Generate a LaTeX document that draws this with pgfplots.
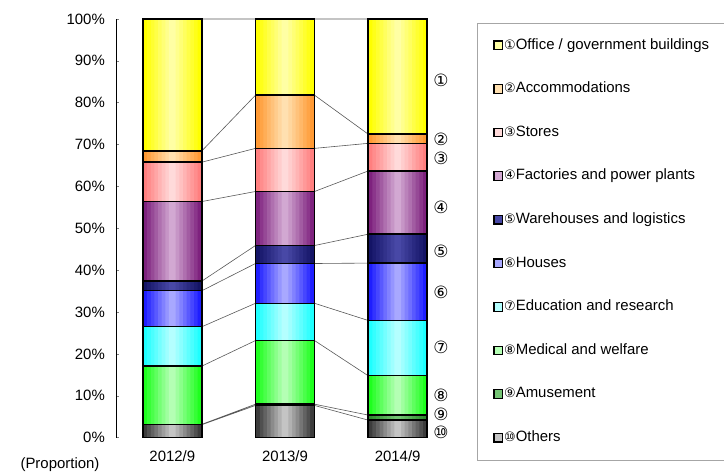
\documentclass[border=0pt]{standalone}
\usepackage{fontspec}
\setmainfont{Liberation Sans}
\newfontfamily\sym{DejaVu Sans}
\usepackage{pgfplots}
\usepackage{pgfplotstable}
\pgfplotsset{compat=1.18}

\definecolor{offE}{HTML}{FFFF00}\definecolor{offM}{HTML}{FFFFA4}
\definecolor{accE}{HTML}{FF9933}\definecolor{accM}{HTML}{FFE0B0}
\definecolor{stoE}{HTML}{FF7F7F}\definecolor{stoM}{HTML}{FFDADA}
\definecolor{facE}{HTML}{7E227E}\definecolor{facM}{HTML}{D2A8D2}
\definecolor{warE}{HTML}{141466}\definecolor{warM}{HTML}{4848A6}
\definecolor{houE}{HTML}{1E1EFF}\definecolor{houM}{HTML}{A8A8FF}
\definecolor{eduE}{HTML}{1EFFFF}\definecolor{eduM}{HTML}{B4FFFF}
\definecolor{medE}{HTML}{1EFF1E}\definecolor{medM}{HTML}{B4FFB4}
\definecolor{amuE}{HTML}{2E8B2E}\definecolor{amuM}{HTML}{74C474}
\definecolor{othE}{HTML}{3C3C3C}\definecolor{othM}{HTML}{C4C4C4}

% shares (%) by use, bottom of the stack first
\pgfplotstableread{
x   oth  amu  med   edu   hou   war  fac   sto   acc   off
0   3.1  0.1  13.9  9.4   8.6   2.3  19.0  9.4   2.7   31.5
1   7.7  0.3  15.2  8.9   9.5   4.3  12.9  10.3  12.7  18.2
2   4.2  1.2  9.4   13.2  13.7  6.9  15.1  6.6   2.2   27.5
}\shares

\pgfplotsset{frame/.style={
    at={(116bp,34.3bp)}, anchor=south west,
    scale only axis,
    width=338bp, height=418.7bp,
    xmin=-0.5, xmax=2.5,
    ymin=0, ymax=100}}

\newcommand{\stackbars}{%
  \pgfplotsinvokeforeach{oth,amu,med,edu,hou,war,fac,sto,acc,off}{%
    \addplot[fill=##1E!\pct!##1M, draw=none] table[x=x, y=##1] {\shares};
  }%
}

\begin{document}
\fontsize{15}{18}\selectfont
\begin{tikzpicture}[x=1bp,y=1bp]
% series lines between bars (behind the bars)
\begin{axis}[frame, hide axis, clip=false]
\addplot[unbounded coords=jump, draw=gray!70!black, line width=0.6bp] coordinates {
    (0.262,3.1) (0.738,7.7) (0.5,nan)
    (0.262,3.2) (0.738,8.0) (0.5,nan)
    (0.262,17.1) (0.738,23.2) (0.5,nan)
    (0.262,26.5) (0.738,32.1) (0.5,nan)
    (0.262,35.1) (0.738,41.6) (0.5,nan)
    (0.262,37.4) (0.738,45.9) (0.5,nan)
    (0.262,56.4) (0.738,58.8) (0.5,nan)
    (0.262,65.8) (0.738,69.1) (0.5,nan)
    (0.262,68.5) (0.738,81.8) (0.5,nan)
    (0.262,100) (0.738,100)
};
\addplot[unbounded coords=jump, draw=gray!70!black, line width=0.6bp] coordinates {
    (1.262,7.7) (1.738,4.2) (1.5,nan)
    (1.262,8.0) (1.738,5.4) (1.5,nan)
    (1.262,23.2) (1.738,14.8) (1.5,nan)
    (1.262,32.1) (1.738,28.0) (1.5,nan)
    (1.262,41.6) (1.738,41.7) (1.5,nan)
    (1.262,45.9) (1.738,48.6) (1.5,nan)
    (1.262,58.8) (1.738,63.7) (1.5,nan)
    (1.262,69.1) (1.738,70.3) (1.5,nan)
    (1.262,81.8) (1.738,72.5) (1.5,nan)
    (1.262,100) (1.738,100)
};
\end{axis}

% horizontal gradient of each bar: overlapping strips, saturated at the edges,
% drawn from the outside in so that inner strips cover the overlaps
\foreach \k in {-7,7,-6,6,-5,5,-4,4,-3,3,-2,2,-1,1,0}{
  \pgfmathtruncatemacro\pct{abs(\k)*100/7}
  \pgfmathsetmacro\sh{\k*0.0323}
  \begin{axis}[frame, hide axis, ybar stacked, bar width=0.06, bar shift=\sh]
    \stackbars
  \end{axis}
}

\begin{axis}[
    frame,
    ybar stacked,
    bar width=0.524,
    axis lines*=left,
    x axis line style={draw=none},
    xtick={0,1,2},
    xticklabels={2012/9,2013/9,2014/9},
    x tick style={draw=none},
    ytick={0,10,...,100},
    yticklabels={0\%,10\%,20\%,30\%,40\%,50\%,60\%,70\%,80\%,90\%,100\%},
    y tick style={gray, line width=0.6bp},
    tick align=inside,
    major tick length=3bp,
    ticklabel style={font=\fontsize{15}{18}\selectfont},
    yticklabel style={xshift=-6bp},
    xticklabel style={yshift=-8bp},
    axis line style={line width=1bp},
    clip=false,
    reverse legend,
    legend cell align=left,
    legend image code/.code={\draw[#1, fill opacity=1, line width=1.3bp] (0bp,-4.3bp) rectangle (8.6bp,4.3bp);},
    legend style={at={(1.068,0.991)}, anchor=north west, draw=gray!70,
        line width=0.6bp, inner xsep=16bp, inner ysep=15.5bp, row sep=30.1bp,
        font=\fontsize{15}{18}\selectfont,
        nodes={text height=10.5bp, text depth=3bp, inner xsep=1bp, inner ysep=0pt}},
    every axis plot/.append style={draw=black, line width=1.5bp, fill opacity=0},
]
\addplot[fill=othM] table[x=x, y=oth] {\shares};
\addlegendentry{{\sym\fontsize{13}{15}\selectfont ⑩}Others}
\addplot[fill=amuM] table[x=x, y=amu] {\shares};
\addlegendentry{{\sym\fontsize{13}{15}\selectfont ⑨}Amusement}
\addplot[fill=medM] table[x=x, y=med] {\shares};
\addlegendentry{{\sym\fontsize{13}{15}\selectfont ⑧}Medical and welfare}
\addplot[fill=eduM] table[x=x, y=edu] {\shares};
\addlegendentry{{\sym\fontsize{13}{15}\selectfont ⑦}Education and research}
\addplot[fill=houM] table[x=x, y=hou] {\shares};
\addlegendentry{{\sym\fontsize{13}{15}\selectfont ⑥}Houses}
\addplot[fill=warM] table[x=x, y=war] {\shares};
\addlegendentry{{\sym\fontsize{13}{15}\selectfont ⑤}Warehouses and logistics}
\addplot[fill=facM] table[x=x, y=fac] {\shares};
\addlegendentry{{\sym\fontsize{13}{15}\selectfont ④}Factories and power plants}
\addplot[fill=stoM] table[x=x, y=sto] {\shares};
\addlegendentry{{\sym\fontsize{13}{15}\selectfont ③}Stores}
\addplot[fill=accM] table[x=x, y=acc] {\shares};
\addlegendentry{{\sym\fontsize{13}{15}\selectfont ②}Accommodations}
\addplot[fill=offM] table[x=x, y=off] {\shares};
\addlegendentry{{\sym\fontsize{13}{15}\selectfont ①}Office / government buildings}

\node[font=\sym\fontsize{17}{19}\selectfont, inner sep=0pt] at (axis cs:2.384,85.4) {①};
\node[font=\sym\fontsize{17}{19}\selectfont, inner sep=0pt] at (axis cs:2.384,71.3) {②};
\node[font=\sym\fontsize{17}{19}\selectfont, inner sep=0pt] at (axis cs:2.384,66.8) {③};
\node[font=\sym\fontsize{17}{19}\selectfont, inner sep=0pt] at (axis cs:2.384,55.1) {④};
\node[font=\sym\fontsize{17}{19}\selectfont, inner sep=0pt] at (axis cs:2.384,44.6) {⑤};
\node[font=\sym\fontsize{17}{19}\selectfont, inner sep=0pt] at (axis cs:2.384,34.6) {⑥};
\node[font=\sym\fontsize{17}{19}\selectfont, inner sep=0pt] at (axis cs:2.384,21.5) {⑦};
\node[font=\sym\fontsize{17}{19}\selectfont, inner sep=0pt] at (axis cs:2.384,10.0) {⑧};
\node[font=\sym\fontsize{17}{19}\selectfont, inner sep=0pt] at (axis cs:2.384,5.5) {⑨};
\node[font=\sym\fontsize{17}{19}\selectfont, inner sep=0pt] at (axis cs:2.384,1.3) {⑩};
\end{axis}
\node[font=\fontsize{15}{18}\selectfont, inner sep=0pt] at (60,7) {(Proportion)};
\pgfresetboundingbox
\path (0,0) rectangle (724,472);
\end{tikzpicture}
\end{document}
